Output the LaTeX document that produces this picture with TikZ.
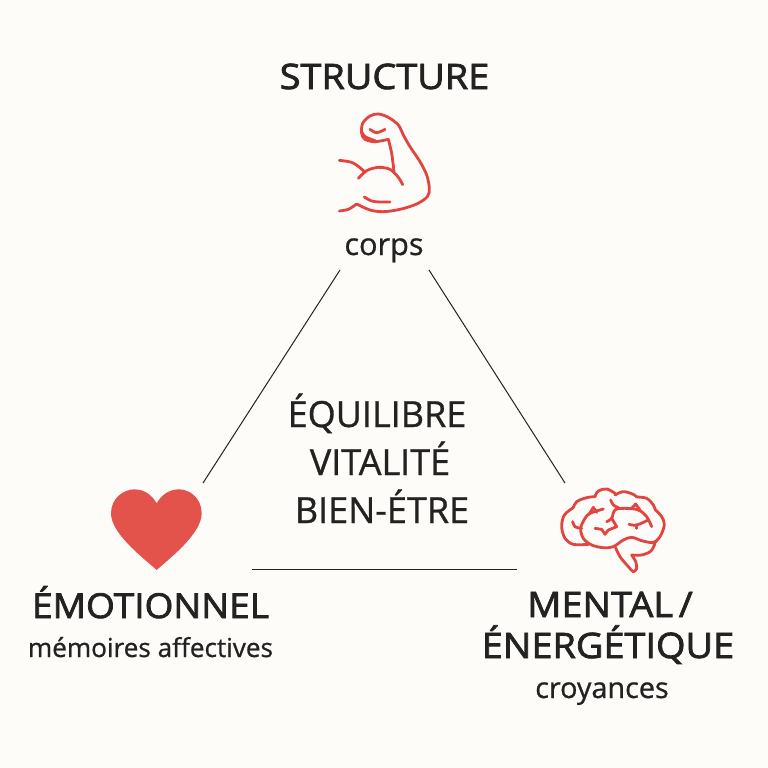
\documentclass[tikz,border=0pt]{standalone}
\usepackage{fontspec}
\setmainfont{Open Sans}
\newfontfamily\titlefont[FakeStretch=1.08,FakeBold=2.2]{Open Sans}
\newfontfamily\midfont[FakeBold=0.8]{Open Sans}
\definecolor{bgc}{HTML}{FDFCF9}
\definecolor{ink}{HTML}{222222}
\definecolor{redc}{HTML}{E2443F}
\definecolor{heartc}{HTML}{E4534B}
\tikzset{
  px/.style={x=0.75pt,y=-0.75pt},
  title/.style={text=ink,font=\fontsize{26.3}{28}\titlefont,inner sep=0pt,anchor=base},
  titleb/.style={text=ink,font=\fontsize{25.7}{28}\titlefont,inner sep=0pt,anchor=base},
  sub/.style={text=ink,font=\fontsize{19.6}{22}\midfont,inner sep=0pt,anchor=base},
  subb/.style={text=ink,font=\fontsize{23}{26}\midfont,inner sep=0pt,anchor=base},
  subc/.style={text=ink,font=\fontsize{21.6}{26}\midfont,inner sep=0pt,anchor=base},
  mid/.style={text=ink,font=\fontsize{27}{30}\midfont,inner sep=0pt,anchor=base},
  link/.style={draw=ink,line width=0.75pt},
  icon/.style={draw=redc,line width=2.1pt,line cap=round,line join=round}
}
\begin{document}
\begin{tikzpicture}[px]
\useasboundingbox (0,0) rectangle (768,768);
\fill[bgc] (0,0) rectangle (768,768);
\node[title] (structure) at (384.5,89) {STRUCTURE};
\node[subb] (corps) at (384,255) {corps};
\node[mid] (eq) at (377,427) {ÉQUILIBRE};
\node[mid] (vi) at (380,475) {VITALITÉ};
\node[mid] (bi) at (382,523) {BIEN-ÉTRE};
\node[titleb] (emo) at (150.5,618) {ÉMOTIONNEL};
\node[sub] (memo) at (150.5,657) {mémoires affectives};
\node[title] (ment) at (610,617) {MENTAL\,/};
\node[title] (ener) at (608,658) {ÉNERGÉTIQUE};
\node[subc] (croy) at (602,698) {croyances};
\coordinate (a1) at (340,270);
\coordinate (a2) at (203,483);
\coordinate (b1) at (429,270);
\coordinate (b2) at (565,483);
\coordinate (c1) at (252,569.5);
\coordinate (c2) at (517,569.5);
\draw[link] (a1) -- (a2);
\draw[link] (b1) -- (b2);
\draw[link] (c1) -- (c2);
% muscle
\begin{scope}[shift={(320,100)},x=0.25pt,y=-0.25pt,icon]
\draw plot[smooth,tension=0.55] coordinates {(205,118)(165,125)(135,118)(125,100)(128,70)(150,48)(175,42)(205,52)(235,75)(250,105)(270,140)(300,185)(320,225)(328,265)(322,290)(290,312)(240,328)(190,335)(150,330)(110,312)};
\draw plot[smooth,tension=0.5] coordinates {(110,312)(85,328)(58,333)};
\draw plot[smooth,tension=0.5] coordinates {(205,118)(215,160)(222,215)};
\draw plot[smooth,tension=0.5] coordinates {(115,235)(140,212)(175,202)(210,208)(235,232)(248,254)};
\draw plot[smooth,tension=0.5] coordinates {(58,181)(95,187)(120,203)(135,217)};
\draw plot[smooth,tension=0.5] coordinates {(133,291)(155,303)(180,306)(210,306)};
\draw plot[smooth,tension=0.6] coordinates {(150,88)(170,98)(195,88)};
\draw plot[smooth,tension=0.5] coordinates {(125,95)(135,110)(165,122)};
\end{scope}
% brain
\begin{scope}[shift={(545,475)},x=0.25pt,y=-0.25pt,icon]
\draw plot[smooth,tension=0.55] coordinates {(130,208)(85,208)(60,190)(50,155)(58,120)(85,98)};
\draw plot[smooth,tension=0.6] coordinates {(85,98)(95,80)(125,68)(150,65)};
\draw plot[smooth,tension=0.6] coordinates {(150,65)(160,48)(185,42)(210,55)};
\draw plot[smooth,tension=0.6] coordinates {(210,60)(235,50)(265,58)(275,66)};
\draw plot[smooth,tension=0.6] coordinates {(275,66)(305,70)(325,90)(330,103)};
\draw plot[smooth,tension=0.55] coordinates {(330,103)(350,125)(358,150)(345,185)(325,205)};
\draw plot[smooth,tension=0.55] coordinates {(175,102)(135,115)(120,130)(107,160)(115,190)(140,210)(175,218)(205,215)(235,195)(260,187)(290,197)(320,203)(335,198)};
\draw (132,118) -- (145,97) -- (155,112);
\draw plot[smooth,tension=0.55] coordinates {(212,218)(225,245)(250,275)(265,290)(275,280)(272,260)(260,240)};
\draw plot[smooth,tension=0.55] coordinates {(260,240)(290,240)(318,228)(330,205)};
\draw plot[smooth,tension=0.6] coordinates {(83,140)(90,155)(110,160)};
\draw plot[smooth,tension=0.6] coordinates {(197,75)(205,90)(220,98)};
\draw plot[smooth,tension=0.6] coordinates {(185,140)(200,130)(210,105)(240,100)(280,105)(305,125)(320,155)};
\draw (258,102) -- (272,87) -- (285,105);
\draw plot[smooth,tension=0.6] coordinates {(252,148)(275,150)(310,135)};
\draw (275,150) -- (275,160);
\draw (150,160) -- (170,163) -- (180,178) -- (190,165) -- (215,155) -- (200,130);
\end{scope}
% heart
\begin{scope}[shift={(95,475)},x=0.25pt,y=-0.25pt]
\fill[heartc] (185,285) .. controls (140,245) and (48,175) .. (48,115)
 .. controls (48,70) and (85,43) .. (118,43)
 .. controls (150,43) and (172,62) .. (185,85)
 .. controls (198,62) and (220,43) .. (252,43)
 .. controls (285,43) and (320,70) .. (320,115)
 .. controls (320,175) and (230,245) .. (185,285) -- cycle;
\end{scope}
\end{tikzpicture}
\end{document}
